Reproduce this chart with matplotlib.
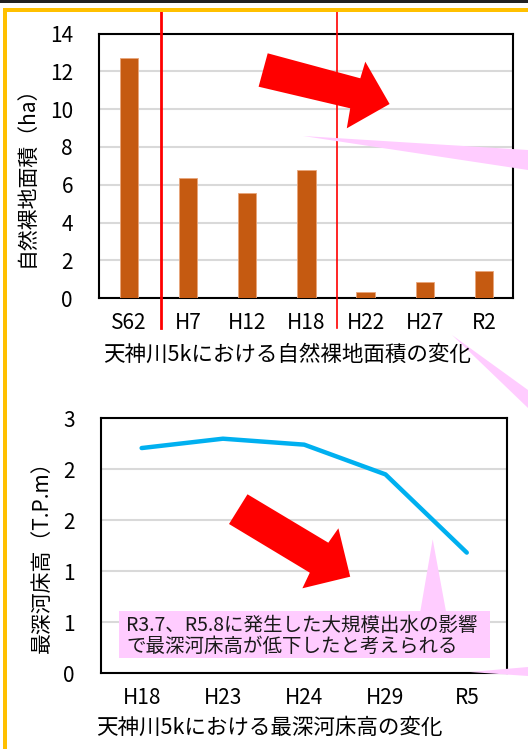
import matplotlib.pyplot as plt
from matplotlib.patches import Polygon, Rectangle
from matplotlib.ticker import FormatStrFormatter

plt.rcParams["font.family"] = ["Noto Sans CJK JP", "DejaVu Sans"]

W, H = 528, 749

# 天神川5k 自然裸地面積 (ha)
area_years = ["S62", "H7", "H12", "H18", "H22", "H27", "R2"]
area_ha = [12.7, 6.35, 5.55, 6.78, 0.35, 0.88, 1.44]
area_ticks = [0, 2, 4, 6, 8, 10, 12, 14]

# 天神川5k 最深河床高 (T.P.m)
bed_years = ["H18", "H23", "H24", "H29", "R5"]
bed_tpm = [2.65, 2.76, 2.69, 2.34, 1.42]
bed_ticks = [0, 0.6, 1.2, 1.8, 2.4, 3.0]

# period separators between bars
dividers = [0.55, 3.52]

BAR = "#C55A11"
LINE = "#00B0F0"
RED = "#FF0000"
PINK = "#FFCCFF"
GRID = "#D9D9D9"


def fp(x, y):
    # pixel position (top-left origin) -> figure fraction
    return (x / W, 1 - y / H)


def style_axes(ax):
    for s in ax.spines.values():
        s.set_color("black")
        s.set_linewidth(1.5)
    ax.yaxis.grid(True, color=GRID, linewidth=1.5)
    ax.set_axisbelow(True)
    ax.tick_params(length=0, labelsize=15, colors="black")
    ax.tick_params(axis="y", pad=19)
    ax.tick_params(axis="x", pad=10)


fig = plt.figure(figsize=(W / 100, H / 100), dpi=100)

# surrounding frame
fig.add_artist(Rectangle(fp(0, 3), 1, 3 / H, transform=fig.transFigure,
                         color="#222222", lw=0))
fig.add_artist(Rectangle(fp(2.5, 12), 1, 4 / H, transform=fig.transFigure,
                         color="#FFC000", lw=0))
fig.add_artist(Rectangle(fp(2.5, H), 4 / W, 1 - 8 / H, transform=fig.transFigure,
                         color="#FFC000", lw=0))

# --- bare ground area ---
ax1 = fig.add_axes([99.3 / W, 1 - 298.3 / H, 414.2 / W, 264.8 / H])
x1 = range(len(area_years))
ax1.bar(x1, area_ha, width=0.31, color=BAR, edgecolor="#E9A57A",
        linewidth=0.6, zorder=3)
ax1.set_xlim(-0.5, len(area_years) - 0.5)
ax1.set_ylim(0, 14)
ax1.set_yticks(area_ticks)
ax1.set_xticks(list(x1))
ax1.set_xticklabels(area_years)
style_axes(ax1)

for xd, lw in zip(dividers, [2.0, 1.2]):
    ax1.plot([xd, xd], [1.085, -0.112], color=RED, lw=lw, clip_on=False,
             transform=ax1.get_xaxis_transform(), zorder=5)

fig.text(27 / W, 1 - 171 / H, "自然裸地面積（ha）", rotation=90,
         ha="center", va="center", fontsize=15)
fig.text(287 / W, 1 - 355 / H, "天神川5kにおける自然裸地面積の変化",
         ha="center", va="center", fontsize=15.5)

# --- deepest riverbed height ---
ax2 = fig.add_axes([101 / W, 1 - 673.3 / H, 406.4 / W, 255 / H])
x2 = range(len(bed_years))
ax2.plot(x2, bed_tpm, color=LINE, lw=3.2, solid_capstyle="round",
         solid_joinstyle="round", zorder=3)
ax2.set_xlim(-0.5, len(bed_years) - 0.5)
ax2.set_ylim(0, 3)
ax2.set_yticks(bed_ticks)
ax2.yaxis.set_major_formatter(FormatStrFormatter("%.0f"))
ax2.set_xticks(list(x2))
ax2.set_xticklabels(bed_years)
style_axes(ax2)

fig.text(42 / W, 1 - 552 / H, "最深河床高（T.P.m）", rotation=90,
         ha="center", va="center", fontsize=15)
fig.text(269 / W, 1 - 728 / H, "天神川5kにおける最深河床高の変化",
         ha="center", va="center", fontsize=15.5)

# --- pink callout pointers ---
wedges = [
    [(303, 136), (528, 150), (528, 170)],
    [(452, 335), (528, 390), (528, 408)],
    [(470, 672), (528, 667), (528, 676)],
]
for pts in wedges:
    fig.add_artist(Polygon([fp(*p) for p in pts], closed=True,
                           transform=fig.transFigure, color=PINK, lw=0,
                           zorder=2))

# --- downward trend arrows ---
arrow_top = [(267.7, 53.3), (360.3, 78.3), (365.3, 61.7), (389.6, 104),
             (346.8, 128.3), (350.2, 108.3), (258.6, 86.7)]
arrow_bot = [(247.5, 494.3), (328.3, 542.7), (338.4, 528.3), (350.2, 576.7),
             (302.4, 588.3), (309.8, 572.7), (229, 524)]
for pts in (arrow_top, arrow_bot):
    fig.add_artist(Polygon([fp(*p) for p in pts], closed=True,
                           transform=fig.transFigure, color=RED, lw=0,
                           zorder=4))

# note box with pointer
fig.add_artist(Polygon([fp(420.2, 612), fp(446.1, 612), fp(432.7, 539.3)],
                       closed=True, transform=fig.transFigure, color=PINK,
                       lw=0, zorder=4))
fig.add_artist(Rectangle(fp(118.5, 658.3), (489.9 - 118.5) / W, 47.3 / H,
                         transform=fig.transFigure, color=PINK, lw=0,
                         zorder=4))
fig.text(126 / W, 1 - 636 / H,
         "R3.7、R5.8に発生した大規模出水の影響\nで最深河床高が低下したと考えられる",
         ha="left", va="center", fontsize=14, linespacing=1.05,
         color="#1a1a1a", zorder=5)

fig.savefig("out.png", dpi=100)
